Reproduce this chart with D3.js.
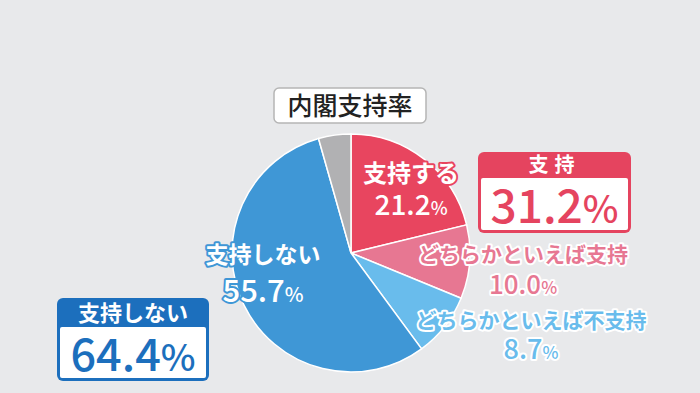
<!DOCTYPE html>
<meta charset="utf-8">
<style>
    body { margin: 0; background: #e8e9eb; }
    svg { display: block; font-family: "Noto Sans CJK JP", "Noto Sans", sans-serif; font-weight: bold; }
</style>
<body>
<script src="https://cdn.jsdelivr.net/npm/d3@7"></script>
<script>

var width = 700,
    height = 393;

// slices clockwise from 12 o'clock
var labels = ['支持する', 'どちらかといえば支持', 'どちらかといえば不支持', '支持しない', 'その他'];
var values = [21.2, 10.0, 8.7, 55.7, 4.4];
var colors = ['#e8455f', '#e77792', '#69bcec', '#3f97d6', '#b1b1b3'];

// summary boxes
var summaryLabels = ['支持', '支持しない'];
var summaryValues = [31.2, 64.4];
var summaryColors = ['#e5445f', '#1c6fbd'];

var cx = 351, cy = 253, radius = 119;

var svg = d3.select('body').append('svg')
    .attr('width', width)
    .attr('height', height);

var pie = d3.pie().sort(null).value(function(d) { return d; });
var arc = d3.arc().innerRadius(0).outerRadius(radius);

var pieGroup = svg.append('g')
    .attr('transform', 'translate(' + cx + ',' + cy + ')');

pieGroup.selectAll('path')
    .data(pie(values))
    .enter()
    .append('path')
    .attr('d', arc)
    .attr('fill', function(d, i) { return colors[i]; })
    .attr('stroke', '#fff')
    .attr('stroke-width', 1.5);

// title box
svg.append('rect')
    .attr('x', 274).attr('y', 88)
    .attr('width', 152).attr('height', 35)
    .attr('rx', 5)
    .attr('fill', '#fff')
    .attr('stroke', '#b5b5b5')
    .attr('stroke-width', 1.5);

svg.append('text')
    .attr('x', 350).attr('y', 115)
    .attr('text-anchor', 'middle')
    .attr('font-size', 25)
    .attr('font-weight', 500)
    .attr('fill', '#222')
    .text('内閣支持率');

// slice labels
var labelPos = [
    {x: 411, y: 182, vy: 215, fs: 24, vs: 28, ps: 18, fill: '#fff', stroke: colors[0]},
    {x: 523, y: 262, vy: 294, fs: 21, vs: 26, ps: 17, fill: colors[1], stroke: '#fff'},
    {x: 531, y: 328, vy: 359, fs: 21, vs: 27, ps: 17, fill: colors[2], stroke: '#fff'},
    {x: 263, y: 263, vy: 302, fs: 23, vs: 31, ps: 20, fill: '#fff', stroke: colors[3]}
];

labelPos.forEach(function(p, i) {
    var g = svg.append('g')
        .attr('fill', p.fill)
        .attr('stroke', p.stroke)
        .attr('stroke-width', 4)
        .attr('stroke-linejoin', 'round')
        .attr('paint-order', 'stroke')
        .attr('text-anchor', 'middle');

    g.append('text')
        .attr('x', p.x).attr('y', p.y)
        .attr('font-size', p.fs)
        .text(labels[i]);

    var t = g.append('text')
        .attr('x', p.x).attr('y', p.vy)
        .attr('font-size', p.vs)
        .attr('font-weight', 500);
    t.append('tspan').text(values[i].toFixed(1));
    t.append('tspan').attr('font-size', p.ps).text('%');
});

// summary boxes
var boxPos = [
    {x: 478, y: 152, w: 153, h: 81, head: 26, vs: 46},
    {x: 57, y: 298, w: 152, h: 83, head: 29, vs: 45}
];

boxPos.forEach(function(b, i) {
    var g = svg.append('g');
    g.append('rect')
        .attr('x', b.x).attr('y', b.y)
        .attr('width', b.w).attr('height', b.h)
        .attr('rx', 6)
        .attr('fill', summaryColors[i]);
    g.append('rect')
        .attr('x', b.x + 3).attr('y', b.y + b.head)
        .attr('width', b.w - 6).attr('height', b.h - b.head - 3)
        .attr('rx', 2)
        .attr('fill', '#fff');
    g.append('text')
        .attr('x', b.x + b.w / 2).attr('y', b.y + b.head - 6)
        .attr('text-anchor', 'middle')
        .attr('font-size', i == 0 ? 20 : 22)
        .attr('letter-spacing', i == 0 ? 6 : 0)
        .attr('fill', '#fff')
        .text(summaryLabels[i]);
    var t = g.append('text')
        .attr('x', b.x + b.w / 2).attr('y', b.y + b.h - 10)
        .attr('text-anchor', 'middle')
        .attr('font-size', b.vs)
        .attr('font-weight', 500)
        .attr('fill', summaryColors[i]);
    t.append('tspan').text(summaryValues[i].toFixed(1));
    t.append('tspan').attr('font-size', b.vs - 8).text('%');
});

</script>
</body>
